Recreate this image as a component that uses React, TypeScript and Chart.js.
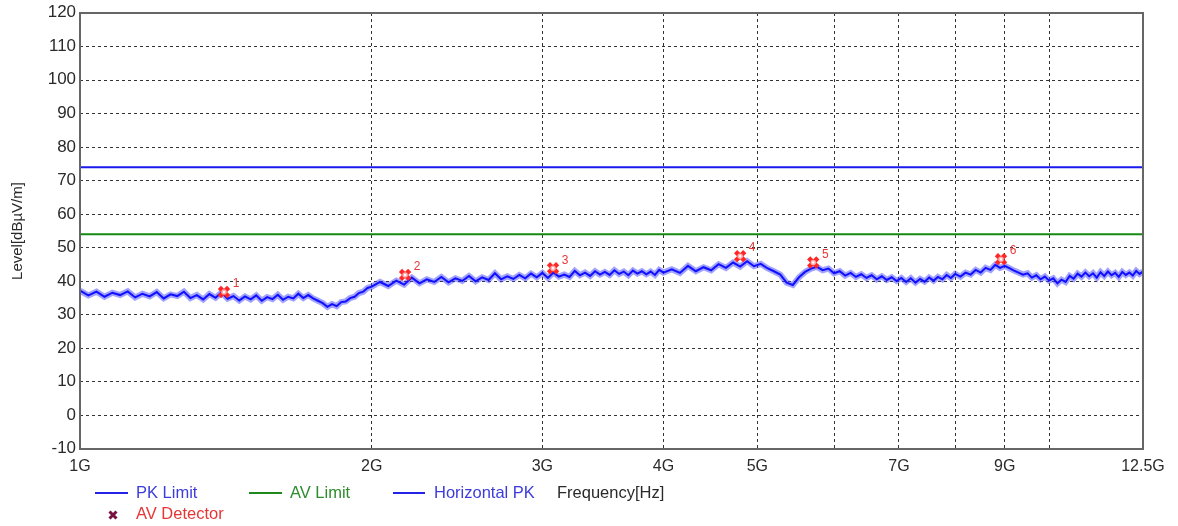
import React, { useEffect, useRef } from "react";
import { Chart, registerables } from "chart.js";
Chart.register(...registerables);

const W = 1178;
const H = 526;

// Sample frequencies (MHz) of the Horizontal PK trace
const FREQ_MHZ: number[] = [
  1000, 1020, 1040, 1060, 1080, 1100, 1120, 1140, 1160, 1180,
  1200, 1220, 1240, 1260, 1280, 1300, 1320, 1340, 1360, 1380,
  1400, 1420, 1440, 1460, 1480, 1500, 1520, 1540, 1560, 1580,
  1600, 1620, 1640, 1660, 1680, 1700, 1720, 1740, 1760, 1780,
  1800, 1820, 1840, 1860, 1880, 1900, 1920, 1940, 1960, 1980, 2000,
  2040, 2080, 2120, 2160, 2200, 2240, 2280, 2320, 2360, 2400,
  2440, 2480, 2520, 2560, 2600, 2640, 2680, 2720, 2760, 2800,
  2840, 2880, 2920, 2960, 3000, 3040, 3080, 3120, 3160, 3200,
  3240, 3280, 3320, 3360, 3400, 3440, 3480, 3520, 3560, 3600,
  3640, 3680, 3720, 3760, 3800, 3840, 3880, 3920, 3960, 4000,
  4080, 4160, 4240, 4320, 4400, 4480, 4560, 4640, 4720, 4800,
  4880, 4960, 5040, 5120, 5200, 5280, 5360, 5440, 5520, 5600,
  5680, 5760, 5840, 5920, 6000, 6080, 6160, 6240, 6320, 6400,
  6480, 6560, 6640, 6720, 6800, 6880, 6960, 7040, 7120, 7200,
  7280, 7360, 7440, 7520, 7600, 7680, 7760, 7840, 7920, 8000,
  8100, 8200, 8300, 8400, 8500, 8600, 8700, 8800, 8900, 9000,
  9100, 9200, 9300, 9400, 9500, 9600, 9700, 9800, 9900, 10000,
  10100, 10200, 10300, 10400, 10500, 10600, 10700, 10800, 10900, 11000,
  11100, 11200, 11300, 11400, 11500, 11600, 11700, 11800, 11900, 12000,
  12100, 12200, 12300, 12400, 12500,
];

// Horizontal PK levels (dBµV/m)
const HORIZONTAL_PK: number[] = [
  37.2, 35.8, 36.9, 35.4, 36.6, 35.9, 37.0, 35.2, 36.3, 35.5,
  36.8, 34.9, 36.1, 35.6, 36.9, 35.0, 35.9, 34.6, 36.2, 35.1,
  36.7, 34.8, 35.6, 34.3, 35.5, 34.6, 35.8, 34.2, 35.3, 34.7,
  36.0, 34.5, 35.4, 34.9, 36.3, 35.0, 35.9, 34.9, 34.2, 33.5,
  32.4, 33.2, 32.6, 33.8, 34.0, 35.0, 35.4, 36.5, 36.9, 38.0, 38.4,
  39.8, 38.6, 40.2, 39.0, 41.1, 39.4, 40.6, 39.8, 41.3, 39.7,
  40.9, 40.1, 41.6, 40.0, 41.2, 40.4, 42.4, 40.6, 41.5, 40.7,
  41.9, 40.9, 42.3, 41.2, 42.5, 41.0, 42.6, 41.4, 42.0, 41.3,
  43.1, 41.8, 42.6, 41.6, 43.0, 42.0, 42.8, 41.9, 43.3, 42.2,
  42.9, 41.8, 43.2, 42.3, 43.0, 42.1, 42.9, 41.9, 43.4, 42.6,
  43.6, 42.5, 44.6, 43.0, 44.2, 43.3, 45.1, 44.0, 45.6, 44.4,
  46.0, 44.5, 45.2, 43.9, 43.0, 42.0, 39.6, 38.9, 41.2, 42.8,
  43.8, 44.3, 43.3, 43.8, 42.4, 43.0, 41.7, 42.5, 41.3, 42.1,
  41.0, 41.8, 40.6, 41.5, 40.4, 41.2, 40.1, 41.0, 39.8, 40.9,
  39.6, 40.7, 39.9, 41.1, 40.2, 41.3, 40.6, 41.9, 41.0, 42.2,
  41.4, 42.6, 42.0, 43.4, 42.6, 44.0, 43.4, 44.9, 44.0, 44.6,
  43.9, 43.2, 42.6, 42.0, 42.4, 41.1, 41.8, 40.6, 41.4, 40.2,
  40.9, 39.4, 40.5, 39.8, 41.6, 40.8, 42.3, 41.4, 42.6, 41.5,
  42.4, 41.1, 42.7, 41.6, 42.9, 41.8, 42.5, 41.3, 42.8, 41.9,
  42.6, 41.7, 43.1, 42.2, 42.9,
];

// AV Detector markers
const MARKER_FREQ_MHZ: number[] = [1408, 2165, 3077, 4800, 5710, 8920];
const MARKER_LEVEL: number[] = [36.8, 41.9, 43.9, 47.5, 45.6, 46.6];
const MARKER_LABELS: string[] = ["1", "2", "3", "4", "5", "6"];

// Limits
const PK_LIMIT = 74;
const AV_LIMIT = 54;

// Axes
const X_MIN = 1000;
const X_MAX = 12500;
const X_GRID_MHZ: number[] = [1000, 2000, 3000, 4000, 5000, 6000, 7000, 8000, 9000, 10000, 12500];
const X_TICK_MHZ: number[] = [1000, 2000, 3000, 4000, 5000, 7000, 9000, 12500];
const X_TICK_LABELS: string[] = ["1G", "2G", "3G", "4G", "5G", "7G", "9G", "12.5G"];
const Y_TICKS: number[] = [-10, 0, 10, 20, 30, 40, 50, 60, 70, 80, 90, 100, 110, 120];

const FONT = "'Liberation Sans', Arial, sans-serif";

const textPlugin = {
  id: "texts",
  afterDraw(chart: any) {
    const ctx = chart.ctx as CanvasRenderingContext2D;
    const xs = chart.scales.x;
    const ys = chart.scales.y;
    const a = chart.chartArea;
    ctx.save();
    // frame
    ctx.strokeStyle = "#666";
    ctx.lineWidth = 2;
    ctx.strokeRect(a.left, a.top, a.right - a.left, a.bottom - a.top);

    // y tick labels
    ctx.fillStyle = "#2a2a2a";
    ctx.font = `16px ${FONT}`;
    ctx.textAlign = "right";
    ctx.textBaseline = "middle";
    Y_TICKS.forEach((v) => {
      ctx.save();
      ctx.translate(a.left - 4, ys.getPixelForValue(v));
      ctx.scale(1.06, 1);
      ctx.fillText(String(v), 0, 0);
      ctx.restore();
    });
    // x tick labels
    ctx.textAlign = "center";
    X_TICK_MHZ.forEach((v, i) => {
      ctx.fillText(X_TICK_LABELS[i], xs.getPixelForValue(v), a.bottom + 18);
    });
    // y title
    ctx.save();
    ctx.translate(18, (a.top + a.bottom) / 2);
    ctx.rotate(-Math.PI / 2);
    ctx.font = `15px ${FONT}`;
    ctx.fillText("Level[dBµV/m]", 0, 0);
    ctx.restore();

    // marker labels
    ctx.fillStyle = "#e8383a";
    ctx.font = `12px ${FONT}`;
    MARKER_FREQ_MHZ.forEach((f, i) => {
      ctx.fillText(MARKER_LABELS[i], xs.getPixelForValue(f) + 12, ys.getPixelForValue(MARKER_LEVEL[i]) - 8);
    });

    // legend
    ctx.font = `16.5px ${FONT}`;
    ctx.textAlign = "left";
    const ly = 493;
    const line = (x1: number, x2: number, c: string) => {
      ctx.strokeStyle = c;
      ctx.lineWidth = 2;
      ctx.beginPath();
      ctx.moveTo(x1, ly);
      ctx.lineTo(x2, ly);
      ctx.stroke();
    };
    line(95, 128, "#2424e6");
    ctx.fillStyle = "#3c3cdc";
    ctx.fillText("PK Limit", 136, ly);
    line(249, 282, "#1e8a1e");
    ctx.fillStyle = "#2e8c2e";
    ctx.fillText("AV Limit", 290, ly);
    line(393, 425, "#2424e6");
    ctx.fillStyle = "#3c3cdc";
    ctx.fillText("Horizontal PK", 434, ly);
    ctx.fillStyle = "#2a2a2a";
    ctx.fillText("Frequency[Hz]", 557, ly);
    // AV Detector legend
    const mx = 113, my = 515;
    ctx.strokeStyle = "#7a1040";
    ctx.lineWidth = 3;
    ctx.beginPath();
    ctx.moveTo(mx - 3.5, my - 3.5);
    ctx.lineTo(mx + 3.5, my + 3.5);
    ctx.moveTo(mx + 3.5, my - 3.5);
    ctx.lineTo(mx - 3.5, my + 3.5);
    ctx.stroke();
    ctx.fillStyle = "#e53535";
    ctx.fillText("AV Detector", 136, 514);
    ctx.restore();
  },
};

export default function App() {
  const ref = useRef<HTMLCanvasElement>(null);
  useEffect(() => {
    const trace = FREQ_MHZ.map((f, i) => ({ x: f, y: HORIZONTAL_PK[i] }));
    const markers = MARKER_FREQ_MHZ.map((f, i) => ({ x: f, y: MARKER_LEVEL[i] }));
    const chart = new Chart(ref.current as HTMLCanvasElement, {
      type: "line",
      data: {
        datasets: [
          {
            label: "AV Detector ring",
            data: markers,
            showLine: false,
            pointStyle: "circle",
            pointRadius: 2,
            pointBorderWidth: 1.5,
            pointBorderColor: "#ffb0b0",
            pointBackgroundColor: "#ffffff",
          } as any,
          {
            label: "AV Detector",
            data: markers,
            showLine: false,
            pointStyle: "crossRot",
            pointRadius: 6.5,
            pointBorderWidth: 4.5,
            pointBorderColor: "#ff2626",
            pointBackgroundColor: "#ff2626",
          } as any,
          {
            label: "Horizontal PK",
            data: trace,
            borderColor: "#1010ff",
            borderWidth: 2,
            pointRadius: 0,
            tension: 0,
          },
          {
            label: "halo",
            data: trace,
            borderColor: "rgba(70,70,255,0.5)",
            borderWidth: 6,
            pointRadius: 0,
            tension: 0,
          },
          {
            label: "PK Limit",
            data: [
              { x: X_MIN, y: PK_LIMIT },
              { x: X_MAX, y: PK_LIMIT },
            ],
            borderColor: "#1a1aee",
            borderWidth: 2,
            pointRadius: 0,
          },
          {
            label: "AV Limit",
            data: [
              { x: X_MIN, y: AV_LIMIT },
              { x: X_MAX, y: AV_LIMIT },
            ],
            borderColor: "#138a13",
            borderWidth: 2,
            pointRadius: 0,
          },
        ],
      },
      options: {
        responsive: false,
        animation: false,
        layout: { padding: { top: 13, right: 35, left: 0, bottom: 0 } },
        plugins: { legend: { display: false }, tooltip: { enabled: false } },
        scales: {
          x: {
            type: "logarithmic",
            min: X_MIN,
            max: X_MAX,
            afterBuildTicks: (s: any) => {
              s.ticks = X_GRID_MHZ.map((v) => ({ value: v }));
            },
            afterFit: (s: any) => {
              s.height = 77;
            },
            ticks: { display: false },
            grid: { color: "#333", lineWidth: 1, drawTicks: false },
            border: { display: false, dash: [3, 3] },
          },
          y: {
            type: "linear",
            min: -10,
            max: 120,
            afterBuildTicks: (s: any) => {
              s.ticks = Y_TICKS.map((v) => ({ value: v }));
            },
            afterFit: (s: any) => {
              s.width = 80;
            },
            ticks: { display: false },
            grid: { color: "#333", lineWidth: 1, drawTicks: false },
            border: { display: false, dash: [3, 3] },
          },
        },
      } as any,
      plugins: [textPlugin],
    });
    return () => chart.destroy();
  }, []);
  return (
    <div style={{ position: "fixed", left: 0, top: 0, width: W, height: H, background: "#fff" }}>
      <canvas ref={ref} width={W} height={H} style={{ display: "block" }} />
    </div>
  );
}
